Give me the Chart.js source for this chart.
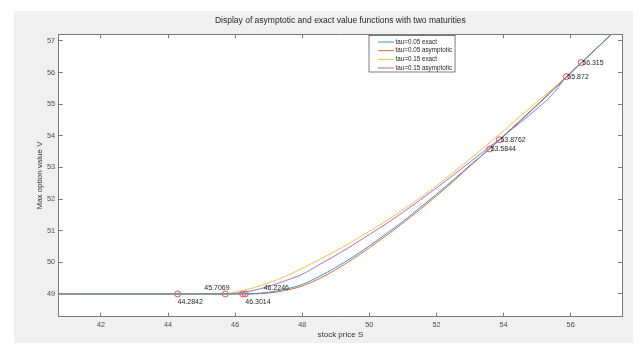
<!DOCTYPE html>
<html>
<head>
<meta charset="utf-8">
<script src="https://cdn.jsdelivr.net/npm/chart.js@4.4.1/dist/chart.umd.min.js"></script>
<style>
  html, body { margin: 0; padding: 0; background: #ffffff; }
  #fig { position: absolute; left: 14px; top: 11px; width: 619px; height: 332px; }
</style>
</head>
<body>
<div id="fig"><canvas id="grafico" width="619" height="332"></canvas></div>
<script>
// values: stock price S (x) and option value V (y)
var s005exact = [40.74, 46.2246, 46.5, 47, 47.5, 48, 48.5, 49, 49.5, 50, 50.5, 51, 51.5, 52, 52.5, 53, 53.5844, 57.6]
var v005exact = [49, 49, 49.01, 49.05, 49.15, 49.3, 49.55, 49.84, 50.16, 50.52, 50.9, 51.29, 51.72, 52.15, 52.6, 53.07, 53.5844, 57.6]

var s005asym = [40.74, 46.3014, 46.5, 47, 47.5, 48, 48.5, 49, 49.5, 50, 50.5, 51, 51.5, 52, 52.5, 53, 53.5, 53.8762, 57.6]
var v005asym = [49, 49, 49.0, 49.03, 49.11, 49.25, 49.48, 49.77, 50.1, 50.46, 50.84, 51.24, 51.66, 52.1, 52.56, 53.04, 53.52, 53.8762, 57.6]

var s015exact = [40.74, 45.7069, 46, 46.5, 47, 47.5, 48, 48.5, 49, 49.5, 50, 50.5, 51, 51.5, 52, 52.5, 53, 53.5, 54, 54.5, 55, 55.5, 55.872, 57.6]
var v015exact = [49, 49, 49.06, 49.18, 49.35, 49.56, 49.81, 50.08, 50.36, 50.66, 50.98, 51.31, 51.66, 52.03, 52.42, 52.84, 53.27, 53.71, 54.16, 54.62, 55.08, 55.52, 55.872, 57.6]

var s015asym = [40.74, 44.2842, 45, 45.5, 46, 46.5, 47, 47.5, 48, 48.5, 49, 49.5, 50, 50.5, 51, 51.5, 52, 52.5, 53, 53.5, 54, 54.5, 55, 55.5, 55.872, 56.315, 57.6]
var v015asym = [49, 49, 49, 49.0, 49.02, 49.1, 49.24, 49.42, 49.62, 49.92, 50.22, 50.54, 50.88, 51.22, 51.58, 51.96, 52.35, 52.76, 53.17, 53.58, 54.0, 54.42, 54.86, 55.36, 55.872, 56.315, 57.6]

// data tips
var tipS = [44.2842, 45.7069, 46.3014, 46.2246, 53.5844, 53.8762, 55.872, 56.315]
var tipV = [49, 49, 49, 49, 53.5844, 53.8762, 55.872, 56.315]

var seriesLabels = ['tau=0.05 exact', 'tau=0.05 asymptotic', 'tau=0.15 exact', 'tau=0.15 asymptotic']
var seriesColors = ['#3b93d6', '#e06a35', '#f2c14e', '#a970c4']

var FONT = '"Liberation Sans", Arial, Helvetica, sans-serif'
var AXIS = '#7a7a7a'
var TXT = '#4d4d4d'

function pts(xs, ys) {
  return xs.map(function(x, i) { return {x: x, y: ys[i]} })
}

function curve(i, xs, ys) {
  return {
    label: seriesLabels[i],
    data: pts(xs, ys),
    showLine: true,
    borderColor: seriesColors[i],
    backgroundColor: seriesColors[i],
    borderWidth: 1,
    pointRadius: 0,
    cubicInterpolationMode: 'monotone'
  }
}

// label offsets for the data tips (px)
var tipPlace = {dx: [0, -21, 0, 21, 1, 1, 1, 1], dy: [8, -5.5, 8, -5.5, 0, 0, 0, 0]}

var decor = {
  id: 'decor',
  beforeDraw: function(chart) {
    var c = chart.ctx, a = chart.chartArea
    c.save()
    c.fillStyle = '#f0f0f0'
    c.fillRect(0, 0, chart.width, chart.height)
    c.fillStyle = '#ffffff'
    c.fillRect(a.left, a.top, a.right - a.left, a.bottom - a.top)
    c.restore()
  },
  afterDraw: function(chart) {
    var c = chart.ctx, a = chart.chartArea
    var sx = chart.scales.x, sy = chart.scales.y
    c.save()
    // title
    c.fillStyle = '#262626'
    c.font = '8.5px ' + FONT
    c.textAlign = 'center'
    c.textBaseline = 'middle'
    c.fillText('Display of asymptotic and exact value functions with two maturities', (a.left + a.right) / 2, 10)

    // tip labels
    c.font = '7px ' + FONT
    c.textAlign = 'left'
    c.fillStyle = '#262626'
    tipS.forEach(function(s, i) {
      var px = sx.getPixelForValue(s), py = sy.getPixelForValue(tipV[i])
      c.fillText(String(s), px + tipPlace.dx[i], py + tipPlace.dy[i])
    })

    // legend box
    c.font = '6.3px ' + FONT
    var bx = 355, by = 24.5, bh = 36.5, tx = 381.5
    var w = 0
    seriesLabels.forEach(function(l) { w = Math.max(w, c.measureText(l).width) })
    c.fillStyle = '#ffffff'
    c.fillRect(bx, by, tx + w + 3 - bx, bh)
    c.strokeStyle = '#262626'
    c.lineWidth = 0.6
    c.strokeRect(bx, by, tx + w + 3 - bx, bh)
    seriesLabels.forEach(function(l, i) {
      var yy = by + 6.5 + i * 8.67
      c.strokeStyle = seriesColors[i]
      c.lineWidth = 1
      c.beginPath()
      c.moveTo(364, yy)
      c.lineTo(380, yy)
      c.stroke()
      c.fillStyle = '#262626'
      c.fillText(l, tx, yy)
    })
    c.restore()
  }
}

function tickAxis(pos, min, max, step) {
  return {
    type: 'linear',
    position: pos,
    min: min,
    max: max,
    afterFit: function(s) { if (s.isHorizontal()) { s.height = 0 } else { s.width = 0 } },
    ticks: { stepSize: step, includeBounds: false, color: 'rgba(0,0,0,0)', font: {size: 7} },
    grid: { drawOnChartArea: false, tickLength: -4, color: AXIS },
    border: { color: AXIS, width: 1 }
  }
}

var ctx = document.getElementById('grafico').getContext('2d')
var myChart = new Chart(ctx, {
  type: 'scatter',
  data: {
    datasets: [
      curve(0, s005exact, v005exact),
      curve(1, s005asym, v005asym),
      curve(2, s015exact, v015exact),
      curve(3, s015asym, v015asym),
      {
        label: 'tips',
        data: pts(tipS, tipV),
        showLine: false,
        pointRadius: 3,
        pointStyle: 'circle',
        borderColor: '#f24b4b',
        backgroundColor: 'rgba(0,0,0,0)',
        borderWidth: 1
      }
    ]
  },
  options: {
    responsive: false,
    animation: false,
    layout: { padding: { top: 23.3, right: 11, left: 0, bottom: 0 } },
    plugins: {
      legend: { display: false },
      title: { display: false },
      tooltip: { enabled: false }
    },
    scales: {
      x: {
        type: 'linear',
        position: 'bottom',
        min: 40.74,
        max: 57.53,
        afterFit: function(s) { s.height = 26.3 },
        ticks: { stepSize: 2, includeBounds: false, color: TXT, font: {family: FONT, size: 7.3}, padding: 8 },
        grid: { drawOnChartArea: false, tickLength: -4, color: AXIS },
        border: { color: AXIS, width: 1 },
        title: { display: true, text: 'stock price S', color: '#333333', font: {family: FONT, size: 8}, padding: {top: 0, bottom: 3.2} }
      },
      y: {
        type: 'linear',
        position: 'left',
        min: 48.28,
        max: 57.21,
        afterFit: function(s) { s.width = 44.7 },
        ticks: { stepSize: 1, includeBounds: false, color: TXT, font: {family: FONT, size: 7.3}, padding: 7.7 },
        grid: { drawOnChartArea: false, tickLength: -4, color: AXIS },
        border: { color: AXIS, width: 1 },
        title: { display: true, text: 'Max option value V', color: '#333333', font: {family: FONT, size: 8}, padding: {top: 21.2, bottom: 0} }
      },
      x2: tickAxis('top', 40.74, 57.53, 2),
      y2: tickAxis('right', 48.28, 57.21, 1)
    }
  },
  plugins: [decor]
})
</script>
</body>
</html>
